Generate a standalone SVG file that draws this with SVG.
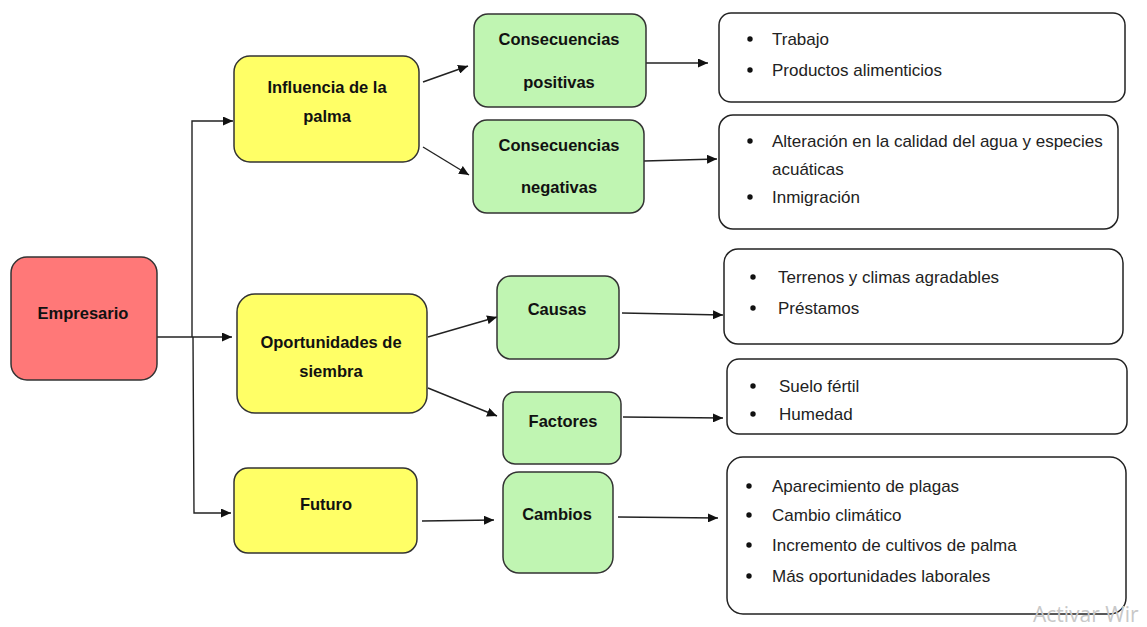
<svg xmlns="http://www.w3.org/2000/svg" width="1147" height="627" viewBox="0 0 1147 627">
<defs>
<marker id="arr" markerUnits="userSpaceOnUse" markerWidth="11" markerHeight="9" refX="10" refY="4.5" orient="auto">
<path d="M0,0 L10,4.5 L0,9 z" fill="#111"/>
</marker>
<style>
.red{fill:#ff7878;stroke:#333;stroke-width:1.5}
.yel{fill:#ffff66;stroke:#333;stroke-width:1.5}
.grn{fill:#c0f5b2;stroke:#333;stroke-width:1.5}
.wht{fill:#fff;stroke:#222;stroke-width:1.5}
.b{font-family:"Liberation Sans",Arial,sans-serif;font-weight:bold;font-size:16.5px;fill:#111;text-anchor:middle}
.t{font-family:"Liberation Sans",Arial,sans-serif;font-size:17px;fill:#222}
.dot{fill:#111}
.c{fill:none;stroke:#222;stroke-width:1.4;marker-end:url(#arr)}
</style>
</defs>
<rect width="1147" height="627" fill="#fff"/>
<g id="connectors">
<path class="c" d="M157,337 L232,337"/>
<path class="c" d="M192,337 L192,121 L233,121"/>
<path class="c" d="M193,337 L194,513 L231,513"/>
<path class="c" d="M423,82 L468,66"/>
<path class="c" d="M423,147 L469,175"/>
<path class="c" d="M646,63 L708,63"/>
<path class="c" d="M644,161 L717,159"/>
<path class="c" d="M428,337 L497,317"/>
<path class="c" d="M428,388 L497,416"/>
<path class="c" d="M622,313 L723,315"/>
<path class="c" d="M623,417 L723,418"/>
<path class="c" d="M422,521 L494,520"/>
<path class="c" d="M618,517 L718,518"/>
</g>
<g id="empresario">
<rect class="red" x="11" y="257" width="146" height="123" rx="16"/>
<text class="b" x="83" y="319">Empresario</text>
</g>
<g id="influencia">
<rect class="yel" x="234" y="56" width="185" height="106" rx="16"/>
<text class="b" x="327" y="93">Influencia de la</text>
<text class="b" x="327" y="122">palma</text>
</g>
<g id="oportunidades">
<rect class="yel" x="237" y="294" width="190" height="119" rx="18"/>
<text class="b" x="331" y="348">Oportunidades de</text>
<text class="b" x="331" y="377">siembra</text>
</g>
<g id="futuro">
<rect class="yel" x="234" y="468" width="183" height="85" rx="14"/>
<text class="b" x="326" y="510">Futuro</text>
</g>
<g id="cons-positivas">
<rect class="grn" x="474" y="14" width="172" height="93" rx="14"/>
<text class="b" x="559" y="45">Consecuencias</text>
<text class="b" x="559" y="88">positivas</text>
</g>
<g id="cons-negativas">
<rect class="grn" x="473" y="120" width="171" height="93" rx="14"/>
<text class="b" x="559" y="151">Consecuencias</text>
<text class="b" x="559" y="193">negativas</text>
</g>
<g id="causas">
<rect class="grn" x="497" y="276" width="122" height="83" rx="14"/>
<text class="b" x="557" y="315">Causas</text>
</g>
<g id="factores">
<rect class="grn" x="503" y="392" width="118" height="72" rx="12"/>
<text class="b" x="563" y="427">Factores</text>
</g>
<g id="cambios">
<rect class="grn" x="503" y="472" width="110" height="101" rx="16"/>
<text class="b" x="557" y="520">Cambios</text>
</g>
<g id="lista-positivas">
<rect class="wht" x="719" y="13" width="406" height="89" rx="12"/>
<circle class="dot" cx="750" cy="39" r="2.7"/>
<text class="t" x="772" y="45">Trabajo</text>
<circle class="dot" cx="750" cy="70" r="2.7"/>
<text class="t" x="772" y="76">Productos alimenticios</text>
</g>
<g id="lista-negativas">
<rect class="wht" x="719" y="115" width="399" height="114" rx="14"/>
<circle class="dot" cx="750" cy="141" r="2.7"/>
<text class="t" x="772" y="147">Alteración en la calidad del agua y especies</text>
<text class="t" x="772" y="175">acuáticas</text>
<circle class="dot" cx="750" cy="197" r="2.7"/>
<text class="t" x="772" y="203">Inmigración</text>
</g>
<g id="lista-causas">
<rect class="wht" x="724" y="249" width="399" height="95" rx="14"/>
<circle class="dot" cx="753" cy="277" r="2.7"/>
<text class="t" x="778" y="283">Terrenos y climas agradables</text>
<circle class="dot" cx="753" cy="308" r="2.7"/>
<text class="t" x="778" y="314">Préstamos</text>
</g>
<g id="lista-factores">
<rect class="wht" x="727" y="359" width="400" height="75" rx="12"/>
<circle class="dot" cx="753" cy="386" r="2.7"/>
<text class="t" x="779" y="392">Suelo fértil</text>
<circle class="dot" cx="753" cy="414" r="2.7"/>
<text class="t" x="779" y="420">Humedad</text>
</g>
<g id="lista-cambios">
<rect class="wht" x="727" y="457" width="399" height="157" rx="16"/>
<circle class="dot" cx="749" cy="486" r="2.7"/>
<text class="t" x="772" y="492">Aparecimiento de plagas</text>
<circle class="dot" cx="749" cy="515" r="2.7"/>
<text class="t" x="772" y="521">Cambio climático</text>
<circle class="dot" cx="749" cy="545" r="2.7"/>
<text class="t" x="772" y="551">Incremento de cultivos de palma</text>
<circle class="dot" cx="749" cy="576" r="2.7"/>
<text class="t" x="772" y="582">Más oportunidades laborales</text>
</g>
<text x="1033" y="622" font-family="'Open Sans','Liberation Sans',sans-serif" font-size="21" fill="#c8c8c8">Activar Wir</text>
</svg>
